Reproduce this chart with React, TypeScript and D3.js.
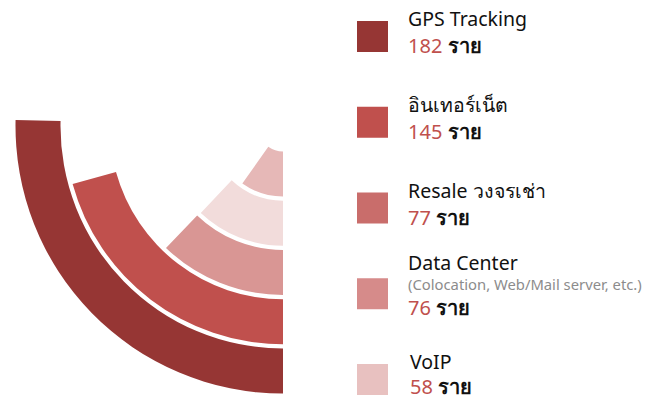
import React from "react";
import * as d3 from "d3";

const categories = ["GPS Tracking", "อินเทอร์เน็ต", "Resale วงจรเช่า", "Data Center", "VoIP"];
const subtitles = ["", "", "", "(Colocation, Web/Mail server, etc.)", ""];
const values = [182, 145, 77, 76, 58];
const unit = "ราย";
const ringColors = ["#963634", "#c0504d", "#d99694", "#f2dcdb", "#e6b8b7"];
const legendColors = ["#963634", "#c0504d", "#c96d6b", "#d68b8a", "#e8c1c0"];

const W = 653;
const H = 400;
const FONT = "'Leelawadee UI', Tahoma, 'Noto Sans', 'DejaVu Sans', sans-serif";

export default function App() {
  const cx = 283;
  const cy = 126;
  const maxV = d3.max(values) as number;
  const angle = d3
    .scaleLinear()
    .domain([0, maxV])
    .range([(9 * Math.PI) / 180, (91.3 * Math.PI) / 180]);
  const inner = d3.scaleLinear().domain([values.length - 1, 0]).range([25.5, 222.5]);
  const thickness = 45;
  const arc = d3.arc<any>();

  const rowTop = d3.scaleLinear().domain([0, values.length - 1]).range([21, 364]);

  return (
    <svg
      width={W}
      height={H}
      style={{ position: "absolute", left: 0, top: 0, background: "#fff" }}
      fontFamily={FONT}
    >
      <g transform={`translate(${cx},${cy})`}>
        {values.map((v, i) => (
          <path
            key={i}
            fill={ringColors[i]}
            d={
              arc({
                innerRadius: inner(i),
                outerRadius: inner(i) + thickness,
                startAngle: Math.PI,
                endAngle: Math.PI + angle(v),
              }) as string
            }
          />
        ))}
      </g>
      {categories.map((c, i) => {
        const top = rowTop(i);
        const hasSub = subtitles[i] !== "";
        const last = i === values.length - 1;
        const tx = last ? 410 : 408;
        const titleY = hasSub ? top - 8 : top + 5;
        const valueY = hasSub ? top + 37 : last ? top + 30 : top + 32;
        return (
          <g key={c}>
            <rect x={357} y={top} width={31} height={31} fill={legendColors[i]} />
            <text x={tx} y={titleY} fontSize={19.5} fill="#111">
              {c}
            </text>
            {hasSub && (
              <text x={408} y={top + 12} fontSize={14.8} fill="#8c8c8c">
                {subtitles[i]}
              </text>
            )}
            <text x={tx} y={valueY} fontSize={20} fill="#111">
              <tspan fill="#c0504d">{values[i]}</tspan>
              <tspan fontWeight={600}> {unit}</tspan>
            </text>
          </g>
        );
      })}
    </svg>
  );
}
